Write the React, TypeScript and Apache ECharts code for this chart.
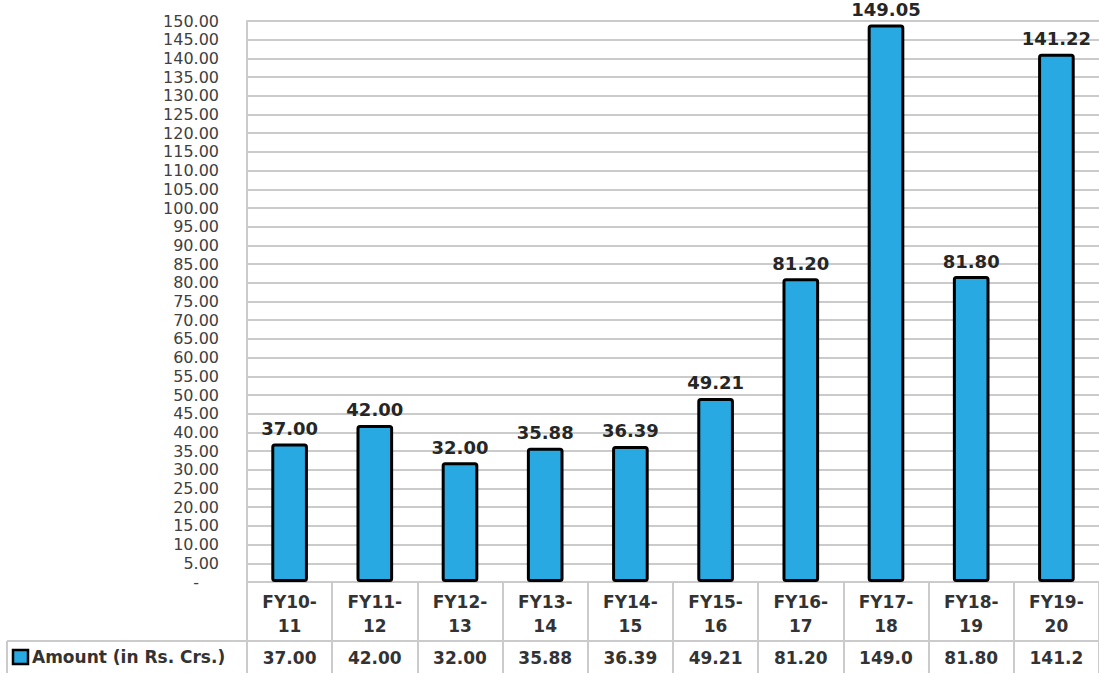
import React, { useEffect, useRef } from "react";
import * as echarts from "echarts";

const categories = ["FY10-11", "FY11-12", "FY12-13", "FY13-14", "FY14-15", "FY15-16", "FY16-17", "FY17-18", "FY18-19", "FY19-20"];
const amounts = [37.0, 42.0, 32.0, 35.88, 36.39, 49.21, 81.2, 149.05, 81.8, 141.22];
const seriesName = "Amount (in Rs. Crs.)";

const W = 1099;
const H = 673;
const GRID_LEFT = 247;
const GRID_TOP = 21;
const GRID_BOTTOM = 91;
const BLUE = "#29A9E1";
const LINE = "#cbcbcb";
const FONT = "DejaVu Sans";

export default function App() {
  const ref = useRef<HTMLDivElement>(null);
  useEffect(() => {
    if (!ref.current) return;
    const chart = echarts.init(ref.current, undefined, { renderer: "svg" });
    const axisBottom = H - GRID_BOTTOM;
    const rowLine = axisBottom + 59;
    chart.setOption({
      animation: false,
      backgroundColor: "#ffffff",
      grid: { left: GRID_LEFT, right: 0, top: GRID_TOP, bottom: GRID_BOTTOM, containLabel: false },
      xAxis: [
        {
          type: "category",
          data: categories,
          position: "bottom",
          axisLine: { show: true, lineStyle: { color: LINE, width: 2 } },
          axisTick: { show: true, length: 95, lineStyle: { color: LINE, width: 2 } },
          axisLabel: {
            fontFamily: FONT,
            fontWeight: "bold",
            fontSize: 17,
            color: "#333333",
            lineHeight: 24,
            margin: 8,
            interval: 0,
            formatter: (v: string) => v.replace("-", "-\n"),
          },
          splitLine: { show: false },
        },
        {
          type: "category",
          data: categories,
          position: "bottom",
          offset: 59,
          axisLine: { show: true, lineStyle: { color: LINE, width: 2 } },
          axisTick: { show: false },
          axisLabel: {
            fontFamily: FONT,
            fontWeight: "bold",
            fontSize: 17,
            color: "#333333",
            margin: 8,
            interval: 0,
            formatter: (_v: string, i: number) => amounts[i].toFixed(2).slice(0, 5),
          },
        },
      ],
      yAxis: {
        type: "value",
        min: 0,
        max: 150,
        interval: 5,
        axisLine: { show: true, lineStyle: { color: LINE, width: 2 } },
        axisTick: { show: false },
        splitLine: { show: true, lineStyle: { color: LINE, width: 2 } },
        axisLabel: {
          fontFamily: FONT,
          fontSize: 16,
          lineHeight: 16,
          color: "#404040",
          margin: 28,
          showMaxLabel: true,
          showMinLabel: true,
          formatter: (v: number) => (v === 0 ? "{d|-}" : v.toFixed(2)),
          rich: { d: { fontFamily: FONT, fontSize: 16, lineHeight: 16, color: "#404040", padding: [0, 20, 0, 0] } },
        },
      },
      series: [
        {
          name: seriesName,
          type: "bar",
          data: amounts,
          barWidth: "43%",
          itemStyle: { color: BLUE, borderColor: "#000000", borderWidth: 3, borderRadius: 2 },
          label: {
            show: true,
            position: "top",
            distance: 6,
            fontFamily: FONT,
            fontWeight: "bold",
            fontSize: 18,
            color: "#262626",
            formatter: (p: any) => Number(p.value).toFixed(2),
          },
        },
      ],
      graphic: [
        { type: "line", shape: { x1: 7, y1: rowLine, x2: GRID_LEFT, y2: rowLine }, style: { stroke: LINE, lineWidth: 2 } },
        { type: "line", shape: { x1: 7, y1: rowLine, x2: 7, y2: H }, style: { stroke: LINE, lineWidth: 2 } },
        { type: "rect", shape: { x: 13, y: 650, width: 15, height: 14 }, style: { fill: BLUE, stroke: "#000000", lineWidth: 2.5 } },
        {
          type: "text",
          x: 32,
          y: 657,
          style: { text: seriesName, fontFamily: FONT, fontWeight: "bold", fontSize: 17, fill: "#333333", verticalAlign: "middle", align: "left" },
        },
      ],
    });
    return () => chart.dispose();
  }, []);
  return <div ref={ref} style={{ position: "fixed", left: 0, top: 0, width: W, height: H }} />;
}
